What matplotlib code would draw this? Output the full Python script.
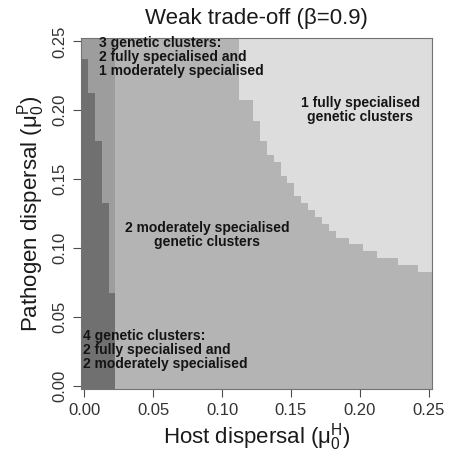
import numpy as np
import matplotlib
matplotlib.use("Agg")
import matplotlib.pyplot as plt
from matplotlib.colors import ListedColormap

plt.rcParams["font.family"] = ["Liberation Sans", "DejaVu Sans"]
plt.rcParams["mathtext.fontset"] = "custom"
plt.rcParams["mathtext.rm"] = "Liberation Sans"
plt.rcParams["mathtext.it"] = "Liberation Sans:italic"

# grid of simulated dispersal rates
host = np.round(np.arange(0, 0.2501, 0.005), 3)
pathogen = np.round(np.arange(0, 0.2501, 0.005), 3)

# columns where 4 clusters appear, and highest pathogen value with 4 clusters
# (above it: 3 clusters)
dark_cols = [0.0, 0.005, 0.01, 0.015, 0.02]
dark_top = [0.235, 0.21, 0.175, 0.13, 0.065]

# columns where 1 fully specialised cluster appears, lowest pathogen value
light_cols = [0.115, 0.12, 0.125, 0.13, 0.135, 0.14, 0.145, 0.15, 0.155, 0.16,
              0.165, 0.17, 0.175, 0.18, 0.185, 0.19, 0.195, 0.2, 0.205, 0.21,
              0.215, 0.22, 0.225, 0.23, 0.235, 0.24, 0.245, 0.25]
light_bottom = [0.21, 0.21, 0.195, 0.18, 0.17, 0.165, 0.155, 0.15, 0.14, 0.135,
                0.13, 0.125, 0.12, 0.115, 0.11, 0.11, 0.105, 0.105, 0.10, 0.10,
                0.095, 0.095, 0.095, 0.09, 0.09, 0.09, 0.085, 0.085]

# 0 = 4 clusters, 1 = 3 clusters, 2 = 2 moderately, 3 = 1 fully
region_colors = ["#707070", "#9d9d9d", "#b4b4b4", "#dddddd"]

grid = np.full((len(pathogen), len(host)), 2)
for hc, top in zip(dark_cols, dark_top):
    i = np.argmin(np.abs(host - hc))
    grid[:, i] = np.where(pathogen <= top + 1e-9, 0, 1)
for hc, bot in zip(light_cols, light_bottom):
    i = np.argmin(np.abs(host - hc))
    grid[pathogen >= bot - 1e-9, i] = 3

fig = plt.figure(figsize=(4.51, 4.55), dpi=100)
ax = fig.add_axes([81 / 451, 1 - 389 / 455, 351 / 451, 351 / 455])

ax.pcolormesh(host, pathogen, grid, shading="nearest",
              cmap=ListedColormap(region_colors), vmin=-0.5, vmax=3.5)

ax.set_xlim(-0.0025, 0.2525)
ax.set_ylim(-0.0025, 0.2525)
ticks = [0.0, 0.05, 0.10, 0.15, 0.20, 0.25]
ax.set_xticks(ticks)
ax.set_yticks(ticks)
ax.set_xticklabels([f"{t:.2f}" for t in ticks])
ax.set_yticklabels([f"{t:.2f}" for t in ticks], rotation=90, va="center")
ax.tick_params(length=6, width=0.8, color="0.3", labelsize=12,
               labelcolor="0.2", pad=4)

for s in ax.spines.values():
    s.set_color("0.45")
    s.set_linewidth(0.8)

ax.set_xlabel(r"Host dispersal ($\mathrm{\mu_0^H}$)", fontsize=16,
              color="0.1", labelpad=2)
ax.set_ylabel(r"Pathogen dispersal ($\mathrm{\mu_0^P}$)", fontsize=16,
              color="0.1", labelpad=4)
ax.set_title("Weak trade-off (\u03b2=0.9)", fontsize=16, color="0.1", pad=10)

txt = dict(fontsize=10, fontweight="bold", color="0.08", linespacing=1.0)
ax.text(0.0105, 0.2386, "3 genetic clusters:\n2 fully specialised and\n1 moderately specialised",
        ha="left", va="center", **txt)
ax.text(0.2004, 0.2, "1 fully specialised\ngenetic clusters",
        ha="center", va="center", multialignment="center", **txt)
ax.text(0.0891, 0.1094, "2 moderately specialised\ngenetic clusters",
        ha="center", va="center", multialignment="center", **txt)
ax.text(-0.0008, 0.026, "4 genetic clusters:\n2 fully specialised and\n2 moderately specialised",
        ha="left", va="center", **txt)

fig.savefig("out.png", dpi=100)
